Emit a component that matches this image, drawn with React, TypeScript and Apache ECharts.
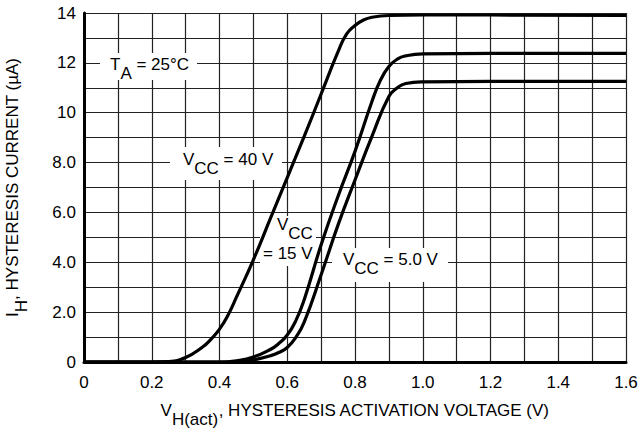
import React, { useEffect, useRef } from 'react';
import * as echarts from 'echarts';

const xTickLabels = ['0', '0.2', '0.4', '0.6', '0.8', '1.0', '1.2', '1.4', '1.6'];
const yTickLabels = ['0', '2.0', '4.0', '6.0', '8.0', '10', '12', '14'];

const vcc40X = [0, 0.2, 0.25, 0.3, 0.35, 0.375, 0.4, 0.425, 0.45, 0.5, 0.55, 0.6, 0.65, 0.7, 0.75, 0.775, 0.8, 0.825, 0.85, 0.9, 1.0, 1.2, 1.6];
const vcc40Y = [0, 0, 0.02, 0.18, 0.6, 0.92, 1.32, 1.88, 2.6, 4.1, 5.75, 7.4, 9.05, 10.75, 12.45, 13.15, 13.5, 13.72, 13.83, 13.9, 13.92, 13.92, 13.9];

const vcc15X = [0, 0.4, 0.45, 0.5, 0.55, 0.575, 0.6, 0.625, 0.65, 0.7, 0.75, 0.8, 0.85, 0.875, 0.9, 0.925, 0.95, 1.0, 1.2, 1.6];
const vcc15Y = [0, 0, 0.05, 0.2, 0.5, 0.74, 1.08, 1.65, 2.5, 4.7, 6.65, 8.45, 10.45, 11.3, 11.85, 12.15, 12.28, 12.36, 12.38, 12.38];

const vcc5X = [0, 0.45, 0.5, 0.55, 0.575, 0.6, 0.625, 0.65, 0.7, 0.75, 0.8, 0.85, 0.9, 0.925, 0.95, 1.0, 1.2, 1.6];
const vcc5Y = [0, 0, 0.08, 0.25, 0.38, 0.58, 0.98, 1.6, 3.5, 5.5, 7.3, 9.05, 10.65, 11.0, 11.17, 11.24, 11.26, 11.26];

const FONT = '"Liberation Sans", Arial, Helvetica, sans-serif';

const rich = {
  m: { fontFamily: FONT, fontSize: 17, color: '#000', lineHeight: 20, verticalAlign: 'top' },
  s: { fontFamily: FONT, fontSize: 17, color: '#000', lineHeight: 26, verticalAlign: 'bottom' },
};

const zip = (xs: number[], ys: number[]) => xs.map((x, i) => [x, ys[i]]);

export default function App() {
  const ref = useRef<HTMLDivElement>(null);
  useEffect(() => {
    if (!ref.current) return;
    const chart = echarts.init(ref.current, null, { renderer: 'svg' });
    const lineSeries = (name: string, xs: number[], ys: number[]) => ({
      name,
      type: 'line',
      data: zip(xs, ys),
      smooth: 0.5,
      showSymbol: false,
      symbol: 'none',
      z: 5,
      lineStyle: { color: '#000', width: 3.2 },
    });
    const box = (x: number, y: number, w: number, h: number) => ({
      type: 'rect', z: 1, silent: true,
      shape: { x, y, width: w, height: h },
      style: { fill: '#fff' },
    });
    const txt = (x: number, y: number, text: string) => ({
      type: 'text', z: 2, silent: true, x, y,
      style: { text, rich, fill: '#000', font: `17px ${FONT}`, textAlign: 'left', textVerticalAlign: 'top' },
    });
    chart.setOption({
      animation: false,
      backgroundColor: '#fff',
      grid: { left: 84, top: 13, right: 13, bottom: 70, containLabel: false, outerBoundsMode: 'none' },
      xAxis: {
        type: 'value', min: 0, max: 1.6, interval: 0.1,
        name: '{m|V}{s|H(act)}{m|, HYSTERESIS ACTIVATION VOLTAGE (V)}',
        nameLocation: 'middle', nameGap: 40,
        nameTextStyle: { rich, fontFamily: FONT, fontSize: 17, color: '#000' },
        axisLine: { show: true, lineStyle: { color: '#000', width: 3 } },
        axisTick: { show: false },
        axisLabel: {
          margin: 12, fontFamily: FONT, fontSize: 17, color: '#000',
          formatter: (_v: number, i: number) => (i % 2 === 0 ? xTickLabels[i / 2] : ''),
        },
        splitLine: { show: true, lineStyle: { color: '#222', width: 1.2 } },
      },
      yAxis: {
        type: 'value', min: 0, max: 14, interval: 1,
        name: '{m|I}{s|H}{m|, HYSTERESIS CURRENT (µA)}',
        nameLocation: 'middle', nameGap: 54,
        nameTextStyle: { rich, fontFamily: FONT, fontSize: 17, color: '#000' },
        axisLine: { show: true, lineStyle: { color: '#000', width: 3 } },
        axisTick: { show: false },
        axisLabel: {
          margin: 8, fontFamily: FONT, fontSize: 17, color: '#000',
          formatter: (_v: number, i: number) => (i % 2 === 0 ? yTickLabels[i / 2] : ''),
        },
        splitLine: { show: true, lineStyle: { color: '#222', width: 1.2 } },
      },
      series: [
        lineSeries('VCC = 40 V', vcc40X, vcc40Y),
        lineSeries('VCC = 15 V', vcc15X, vcc15Y),
        lineSeries('VCC = 5.0 V', vcc5X, vcc5Y),
      ],
      graphic: [
        box(100, 53, 97, 27),
        txt(110, 56, '{m|T}{s|A}{m| = 25°C}'),
        box(170, 147, 112, 33),
        txt(183, 151, '{m|V}{s|CC}{m| = 40 V}'),
        box(260, 216, 56, 50),
        txt(277, 216, '{m|V}{s|CC}'),
        txt(263, 245, '{m|= 15 V}'),
        box(332, 248, 116, 34),
        txt(343, 251, '{m|V}{s|CC}{m| = 5.0 V}'),
      ],
    });
    return () => chart.dispose();
  }, []);
  return <div ref={ref} style={{ position: 'fixed', left: 0, top: 0, width: 639, height: 432 }} />;
}
